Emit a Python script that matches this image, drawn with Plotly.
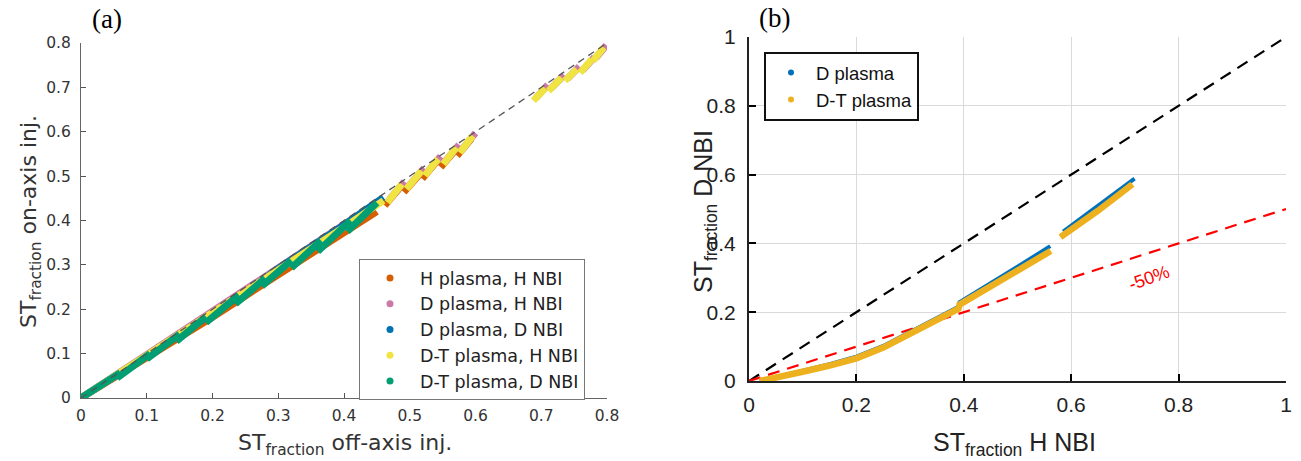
import plotly.graph_objects as go

# ---------------- Panel (a) data (hand-read) ----------------
# H plasma, H NBI (orange)
hh_x = [0.0, 0.05, 0.1, 0.15, 0.2, 0.25, 0.3, 0.35, 0.4, 0.45, None,
        0.462, 0.475, 0.485, None, 0.491, 0.505, 0.515, None, 0.519, 0.532, 0.541, None,
        0.547, 0.56, 0.569, None, 0.572, 0.585, 0.594]
hh_y = [0.0, 0.045, 0.089, 0.136, 0.182, 0.23, 0.277, 0.324, 0.372, 0.42, None,
        0.434, 0.456, 0.474, None, 0.464, 0.487, 0.504, None, 0.494, 0.517, 0.533, None,
        0.52, 0.543, 0.558, None, 0.546, 0.57, 0.585]
# D plasma, H NBI (pink)
dh_x = [0.0, 0.05, 0.1, 0.15, 0.2, 0.25, 0.3, 0.35, 0.4, 0.45, None,
        0.47, 0.48, 0.492, None, 0.499, 0.51, 0.522, None, 0.527, 0.537, 0.547, None,
        0.555, 0.565, 0.575, None, 0.58, 0.59, 0.6, None,
        0.692, 0.7, 0.71, None, 0.715, 0.725, 0.735, None, 0.74, 0.748, 0.758, None,
        0.763, 0.772, 0.781, None, 0.783, 0.791, 0.799]
dh_y = [0.0, 0.049, 0.097, 0.147, 0.195, 0.244, 0.293, 0.342, 0.392, 0.44, None,
        0.449, 0.469, 0.488, None, 0.479, 0.5, 0.518, None, 0.509, 0.527, 0.545, None,
        0.535, 0.554, 0.571, None, 0.561, 0.58, 0.597, None,
        0.676, 0.69, 0.706, None, 0.698, 0.713, 0.728, None, 0.72, 0.733, 0.747, None,
        0.739, 0.753, 0.768, None, 0.766, 0.779, 0.795]
# D plasma, D NBI (blue)
dd_x = [0.0, 0.05, 0.1, 0.15, 0.2, 0.25, 0.3, 0.35, 0.4, 0.46]
dd_y = [0.0, 0.047, 0.094, 0.14, 0.188, 0.238, 0.292, 0.34, 0.39, 0.452]
# D-T plasma, H NBI (yellow)
th_x = [0.0, 0.05, 0.1, 0.15, 0.2, 0.25, 0.3, 0.35, 0.4, 0.46, None,
        0.466, 0.477, 0.488, None, 0.495, 0.507, 0.518, None, 0.523, 0.533, 0.543, None,
        0.551, 0.561, 0.571, None, 0.576, 0.586, 0.596, None,
        0.688, 0.697, 0.706, None, 0.711, 0.721, 0.731, None, 0.736, 0.745, 0.754, None,
        0.759, 0.768, 0.777, None, 0.779, 0.787, 0.795]
th_y = [0.0, 0.048, 0.095, 0.143, 0.19, 0.24, 0.29, 0.338, 0.385, 0.445, None,
        0.441, 0.461, 0.482, None, 0.471, 0.491, 0.512, None, 0.501, 0.52, 0.539, None,
        0.527, 0.546, 0.565, None, 0.553, 0.572, 0.591, None,
        0.67, 0.684, 0.698, None, 0.692, 0.707, 0.722, None, 0.715, 0.728, 0.741, None,
        0.733, 0.748, 0.763, None, 0.76, 0.775, 0.79]
# D-T plasma, D NBI (green)
td_x = [0.0, 0.03, 0.06, None, 0.055, 0.08, 0.105, None, 0.1, 0.125, 0.15, None,
        0.145, 0.17, 0.19, None, 0.19, 0.215, 0.24, None, 0.235, 0.26, 0.28, None,
        0.275, 0.3, 0.32, None, 0.32, 0.345, 0.365, None, 0.36, 0.385, 0.41, None,
        0.405, 0.43, 0.45]
td_y = [0.0, 0.027, 0.057, None, 0.045, 0.073, 0.1, None, 0.088, 0.116, 0.144, None,
        0.128, 0.158, 0.183, None, 0.17, 0.2, 0.232, None, 0.212, 0.243, 0.27, None,
        0.252, 0.283, 0.31, None, 0.293, 0.327, 0.355, None, 0.33, 0.364, 0.4, None,
        0.375, 0.41, 0.44]
diag_a = [0.0, 0.8]

# ---------------- Panel (b) data (hand-read) ----------------
d_x = [0.02, 0.05, 0.1, 0.15, 0.2, 0.25, 0.3, 0.33, 0.39, 0.392, 0.436, 0.44, 0.5, 0.561, None,
       0.585, 0.65, 0.718]
d_y = [0.0, 0.012, 0.03, 0.049, 0.071, 0.102, 0.142, 0.165, 0.216, 0.229, 0.27, 0.276, 0.332, 0.392, None,
       0.434, 0.51, 0.588]
dt_x = [0.02, 0.05, 0.1, 0.15, 0.2, 0.25, 0.3, 0.33, 0.39, 0.392, 0.436, 0.44, 0.5, 0.562, None,
        0.58, 0.65, 0.714]
dt_y = [0.0, 0.009, 0.027, 0.045, 0.066, 0.097, 0.136, 0.158, 0.21, 0.222, 0.262, 0.268, 0.318, 0.378, None,
        0.418, 0.495, 0.572]
ref_x = [0.0, 1.0]
ref_y_unity = [0.0, 1.0]
ref_y_half = [0.0, 0.5]

c_or, c_pk, c_bl, c_ye, c_gr = "#D55E00", "#CC79A7", "#0072B2", "#F0E442", "#009E73"

fig = go.Figure()

series_a = [
    ("H plasma, H NBI", hh_x, hh_y, c_or),
    ("D plasma, H NBI", dh_x, dh_y, c_pk),
    ("D plasma, D NBI", dd_x, dd_y, c_bl),
    ("D-T plasma, H NBI", th_x, th_y, c_ye),
    ("D-T plasma, D NBI", td_x, td_y, c_gr),
]
for name, xs, ys, col in series_a:
    fig.add_trace(go.Scatter(x=xs, y=ys, mode="lines", line=dict(color=col, width=7),
                             xaxis="x", yaxis="y", showlegend=False, hoverinfo="skip"))
fig.add_trace(go.Scatter(x=diag_a, y=diag_a, mode="lines",
                         line=dict(color="#555555", width=1.3, dash="7px,5px"),
                         xaxis="x", yaxis="y", showlegend=False))
for name, xs, ys, col in series_a:
    fig.add_trace(go.Scatter(x=[None], y=[None], mode="markers", name=name,
                             marker=dict(color=col, size=7), xaxis="x", yaxis="y", legend="legend"))

# panel (b)
fig.add_trace(go.Scatter(x=ref_x, y=ref_y_unity, mode="lines",
                         line=dict(color="black", width=2.2, dash="12px,8px"),
                         xaxis="x2", yaxis="y2", showlegend=False))
fig.add_trace(go.Scatter(x=ref_x, y=ref_y_half, mode="lines",
                         line=dict(color="#FF0000", width=2.2, dash="12px,8px"),
                         xaxis="x2", yaxis="y2", showlegend=False))
fig.add_trace(go.Scatter(x=d_x, y=d_y, mode="lines", line=dict(color="#0072BD", width=4),
                         xaxis="x2", yaxis="y2", showlegend=False))
fig.add_trace(go.Scatter(x=dt_x, y=dt_y, mode="lines", line=dict(color="#EDB120", width=6.5),
                         xaxis="x2", yaxis="y2", showlegend=False))
fig.add_trace(go.Scatter(x=[None], y=[None], mode="markers", name="D plasma",
                         marker=dict(color="#0072BD", size=6), xaxis="x2", yaxis="y2", legend="legend2"))
fig.add_trace(go.Scatter(x=[None], y=[None], mode="markers", name="D-T plasma",
                         marker=dict(color="#EDB120", size=6), xaxis="x2", yaxis="y2", legend="legend2"))

W, H = 1301, 461
fa = "DejaVu Sans"
fb = "Liberation Sans"

ticks_a = [0, 0.1, 0.2, 0.3, 0.4, 0.5, 0.6, 0.7, 0.8]
labels_a = ["0", "0.1", "0.2", "0.3", "0.4", "0.5", "0.6", "0.7", "0.8"]
ticks_b = [0, 0.2, 0.4, 0.6, 0.8, 1]
labels_b = ["0", "0.2", "0.4", "0.6", "0.8", "1"]


def ann(text, x, y, font, angle=0, xref="paper", yref="paper"):
    return dict(text=text, x=x, y=y, xref=xref, yref=yref, showarrow=False, textangle=angle,
                xanchor="center", yanchor="middle", font=font)


fig.update_layout(
    template="none",
    width=W, height=H, margin=dict(l=0, r=0, t=0, b=0, pad=0), autosize=False,
    paper_bgcolor="white", plot_bgcolor="white",
    xaxis=dict(domain=[81 / W, 607 / W], range=[0, 0.8], tickvals=ticks_a, ticktext=labels_a,
               ticks="inside", ticklen=5, tickcolor="#555", showline=True, linecolor="#666", linewidth=1,
               showgrid=False, zeroline=False, tickfont=dict(family=fa, size=15.5, color="#333"),
               ticklabelstandoff=3, anchor="y", automargin=False),
    yaxis=dict(domain=[63 / H, 418 / H], range=[0, 0.8], tickvals=ticks_a, ticktext=labels_a,
               ticks="inside", ticklen=5, tickcolor="#555", showline=True, linecolor="#666", linewidth=1,
               showgrid=False, zeroline=False, tickfont=dict(family=fa, size=15.5, color="#333"),
               ticklabelstandoff=6, anchor="x", automargin=False),
    xaxis2=dict(domain=[749 / W, 1286 / W], range=[0, 1], tickvals=ticks_b, ticktext=labels_b,
                ticks="inside", ticklen=7, tickwidth=1.5, tickcolor="black", showline=True, linecolor="#222",
                linewidth=2.2, showgrid=True, gridcolor="#DADADA", gridwidth=1.3, zeroline=False,
                tickfont=dict(family=fb, size=21, color="#222"), ticklabelstandoff=4, anchor="y2",
                automargin=False),
    yaxis2=dict(domain=[80 / H, 424 / H], range=[0, 1], tickvals=ticks_b, ticktext=labels_b,
                ticks="inside", ticklen=7, tickwidth=1.5, tickcolor="black", showline=True, linecolor="#222",
                linewidth=2.2, showgrid=True, gridcolor="#DADADA", gridwidth=1.3, zeroline=False,
                tickfont=dict(family=fb, size=21, color="#222"), ticklabelstandoff=7, anchor="x2",
                automargin=False),
    legend=dict(x=359 / W, y=1 - 259 / H, xanchor="left", yanchor="top",
                bgcolor="white", bordercolor="#777", borderwidth=1,
                font=dict(family=fa, size=17.5, color="#222"), itemwidth=50, tracegroupgap=0),
    legend2=dict(x=764 / W, y=1 - 52 / H, xanchor="left", yanchor="top",
                 bgcolor="white", bordercolor="#111", borderwidth=2,
                 font=dict(family=fb, size=18.5, color="#111"), itemwidth=40),
    annotations=[
        ann("(a)", 107 / W, 1 - 19 / H, dict(family="Liberation Serif", size=27, color="black")),
        ann("(b)", 774 / W, 1 - 18 / H, dict(family="Liberation Serif", size=27, color="black")),
        ann("ST<sub>fraction</sub> off-axis inj.", 345 / W, 1 - 444 / H, dict(family=fa, size=22, color="#333")),
        ann("ST<sub>fraction</sub> on-axis inj.", 30 / W, 1 - 222 / H, dict(family=fa, size=22, color="#333"), -90),
        ann("ST<sub>fraction</sub> H NBI", 1014 / W, 1 - 444 / H, dict(family=fb, size=25, color="#222")),
        ann("ST<sub>fraction</sub> D NBI", 705 / W, 1 - 212 / H, dict(family=fb, size=25, color="#222"), -90),
        ann("-50%", 0.745, 0.30, dict(family=fb, size=18, color="#FF0000"), -20, "x2", "y2"),
    ],
)

fig.write_html("out.html")
